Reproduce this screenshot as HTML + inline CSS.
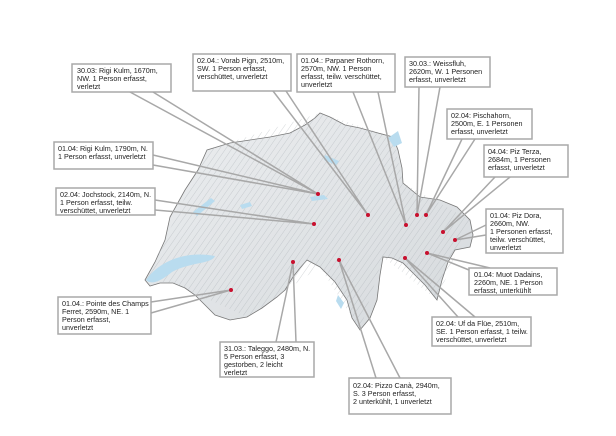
<!DOCTYPE html>
<html><head><meta charset="utf-8"><style>
html,body{margin:0;padding:0;background:#fff;}
svg{display:block}
text{font-family:"Liberation Sans",sans-serif;font-size:7.2px;fill:#222}
</style></head><body>
<svg width="616" height="436" viewBox="0 0 616 436">
<defs>
<linearGradient id="g" x1="0" y1="0" x2="1" y2="1">
<stop offset="0" stop-color="#eceef0"/><stop offset="1" stop-color="#d6dadd"/>
</linearGradient>
<pattern id="h" width="5" height="5" patternUnits="userSpaceOnUse" patternTransform="rotate(35)">
<line x1="0" y1="0" x2="0" y2="5" stroke="#a9afb4" stroke-width="1"/>
</pattern>
</defs>
<path d="M145,280 L155,262 165,240 170,217 185,190 198,170 207,150 230,143 250,140 270,137 290,133 305,125 315,118 320,113 330,117 345,125 360,128 378,133 393,137 398,150 402,168 403,183 420,197 440,200 457,207 470,220 473,235 470,247 455,250 448,262 442,280 437,300 425,285 413,273 403,263 392,258 383,257 380,275 377,300 370,318 360,330 352,318 347,300 335,282 320,267 307,260 300,268 293,277 285,290 277,297 262,308 247,317 230,320 215,315 205,305 195,295 185,288 173,283 160,283 150,286 Z" fill="url(#g)" stroke="#777" stroke-width="0.8"/>
<path d="M145,280 L165,240 207,150 320,113 393,137 403,183 470,220 437,300 383,257 360,330 320,267 247,317 173,283 Z" fill="url(#h)" opacity="0.5"/>
<path d="M146,280 C158,262 185,250 215,256 C212,264 190,262 172,272 C162,280 152,286 146,280 Z" fill="#b9dcef"/>
<path d="M193,212 l18,-14 4,3 -18,15 Z" fill="#b9dcef"/>
<path d="M388,138 l10,-7 4,12 -8,4 Z" fill="#b9dcef"/>
<path d="M325,155 l14,6 -3,4 -12,-5 Z" fill="#b9dcef"/>
<path d="M338,295 l6,8 -3,6 -5,-8 Z" fill="#b9dcef"/>
<path d="M310,197 l14,-2 4,4 -16,2 Z" fill="#b9dcef"/>
<path d="M240,205 l10,-3 2,4 -10,3 Z" fill="#b9dcef"/>
<g stroke="#a8a8a8" stroke-width="1.5" fill="none">
<polyline points="130,92 318,194 153,92"/>
<polyline points="273,91 368,215 286,91"/>
<polyline points="153,155 318,194 153,165"/>
<polyline points="155,200 314,224 155,210"/>
<polyline points="353,92 406,225 378,92"/>
<polyline points="419,87 417,215 440,87"/>
<polyline points="462,139 426,215 475,139"/>
<polyline points="495,177 443,232 510,177"/>
<polyline points="486,225 455,240 486,235"/>
<polyline points="469,270 427,253 490,268"/>
<polyline points="458,317 405,258 475,317"/>
<polyline points="376,378 339,260 400,378"/>
<polyline points="276,342 293,262 296,342"/>
<polyline points="151,302 231,290 151,313"/>
</g>
<g fill="#c8102e">
<circle cx="318" cy="194" r="2"/><circle cx="314" cy="224" r="2"/><circle cx="368" cy="215" r="2"/>
<circle cx="406" cy="225" r="2"/><circle cx="417" cy="215" r="2"/><circle cx="426" cy="215" r="2"/>
<circle cx="443" cy="232" r="2"/><circle cx="455" cy="240" r="2"/><circle cx="427" cy="253" r="2"/>
<circle cx="405" cy="258" r="2"/><circle cx="339" cy="260" r="2"/><circle cx="293" cy="262" r="2"/>
<circle cx="231" cy="290" r="2"/>
</g>
<g fill="#fff" stroke="#a8a8a8" stroke-width="1.5">
<rect x="72" y="64" width="99" height="28"/>
<rect x="193" y="54" width="98" height="37"/>
<rect x="297" y="54" width="98" height="38"/>
<rect x="405" y="57" width="85" height="30"/>
<rect x="447" y="109" width="85" height="30"/>
<rect x="484" y="145" width="84" height="32"/>
<rect x="54" y="142" width="99" height="27"/>
<rect x="56" y="188" width="99" height="27"/>
<rect x="486" y="209" width="77" height="44"/>
<rect x="469" y="268" width="88" height="27"/>
<rect x="432" y="317" width="99" height="29"/>
<rect x="349" y="378" width="102" height="36"/>
<rect x="220" y="342" width="94" height="35"/>
<rect x="58" y="297" width="93" height="37"/>
</g>
<text x="77" y="73">30.03: Rigi Kulm, 1670m,</text>
<text x="77" y="81">NW. 1 Person erfasst,</text>
<text x="77" y="89">verletzt</text>
<text x="197" y="63">02.04.: Vorab Pign, 2510m,</text>
<text x="197" y="71">SW. 1 Person erfasst,</text>
<text x="197" y="79">verschüttet, unverletzt</text>
<text x="301" y="63">01.04.: Parpaner Rothorn,</text>
<text x="301" y="71">2570m, NW. 1 Person</text>
<text x="301" y="79">erfasst, teilw. verschüttet,</text>
<text x="301" y="87">unverletzt</text>
<text x="409" y="66">30.03.: Weissfluh,</text>
<text x="409" y="74">2620m, W. 1 Personen</text>
<text x="409" y="82">erfasst, unverletzt</text>
<text x="451" y="118">02.04: Pischahorn,</text>
<text x="451" y="126">2500m, E. 1 Personen</text>
<text x="451" y="134">erfasst, unverletzt</text>
<text x="488" y="154">04.04: Piz Terza,</text>
<text x="488" y="162">2684m, 1 Personen</text>
<text x="488" y="170">erfasst, unverletzt</text>
<text x="58" y="151">01.04: Rigi Kulm, 1790m, N.</text>
<text x="58" y="159">1 Person erfasst, unverletzt</text>
<text x="60" y="197">02.04: Jochstock, 2140m, N.</text>
<text x="60" y="205">1 Person erfasst, teilw.</text>
<text x="60" y="213">verschüttet, unverletzt</text>
<text x="490" y="218">01.04: Piz Dora,</text>
<text x="490" y="226">2660m, NW.</text>
<text x="490" y="234">1 Personen erfasst,</text>
<text x="490" y="242">teilw. verschüttet,</text>
<text x="490" y="250">unverletzt</text>
<text x="474" y="277">01.04: Muot Dadains,</text>
<text x="474" y="285">2260m, NE. 1 Person</text>
<text x="474" y="293">erfasst, unterkühlt</text>
<text x="436" y="326">02.04: Uf da Flüe, 2510m,</text>
<text x="436" y="334">SE. 1 Person erfasst, 1 teilw.</text>
<text x="436" y="342">verschüttet, unverletzt</text>
<text x="353" y="388">02.04: Pizzo Canà, 2940m,</text>
<text x="353" y="396">S. 3 Person erfasst,</text>
<text x="353" y="404">2 unterkühlt, 1 unverletzt</text>
<text x="224" y="351">31.03.: Taleggo, 2480m, N.</text>
<text x="224" y="359">5 Person erfasst, 3</text>
<text x="224" y="367">gestorben, 2 leicht</text>
<text x="224" y="375">verletzt</text>
<text x="62" y="306">01.04.: Pointe des Champs</text>
<text x="62" y="314">Ferret, 2590m, NE. 1</text>
<text x="62" y="322">Person erfasst,</text>
<text x="62" y="330">unverletzt</text>
</svg>
</body></html>
